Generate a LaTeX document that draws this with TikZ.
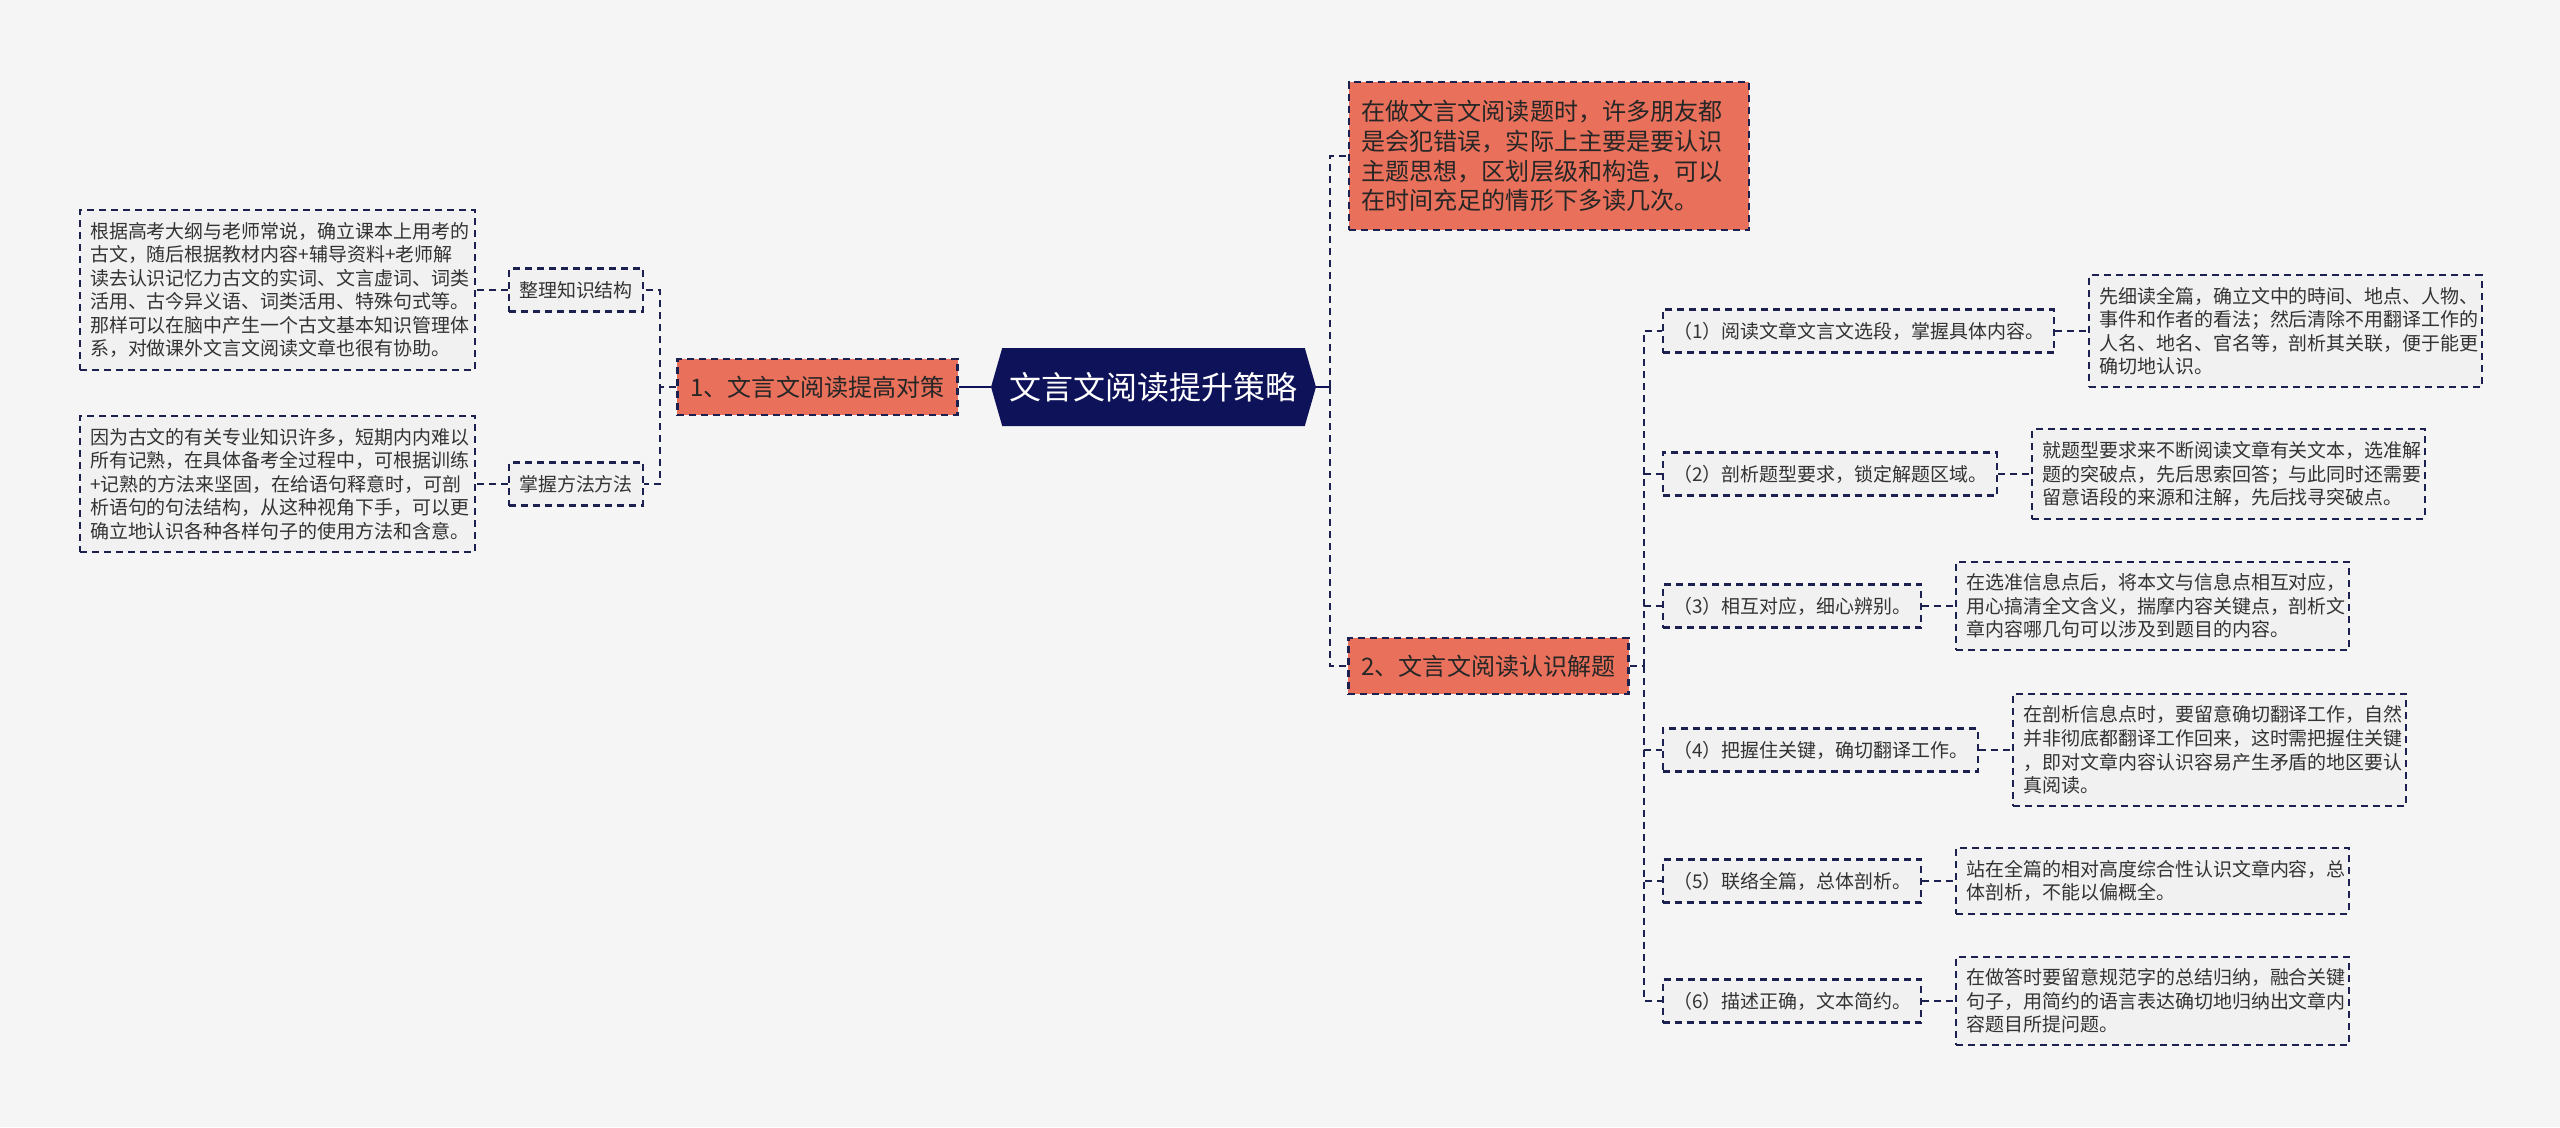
\documentclass[tikz,border=0pt]{standalone}
\usepackage{fontspec}
\newfontfamily\cjk{Noto Sans CJK SC}
\usetikzlibrary{shapes.symbols, positioning}

\definecolor{bgc}{HTML}{F5F5F5}
\definecolor{navy}{HTML}{0E1259}
\definecolor{salmon}{HTML}{E9705B}
\definecolor{linec}{HTML}{1C2150}
\definecolor{boxc}{HTML}{F1F1F1}
\definecolor{txtc}{HTML}{333333}

\begin{document}
\begin{tikzpicture}[
        x=0.02cm, y=-0.02cm,
        dashln/.style={line width=1.2pt, dash pattern=on 0.14cm off 0.1cm},
        root/.style={signal, signal to=west and east, signal pointer angle=148, fill=navy, text=white, minimum width=6.5cm, minimum height=1.56cm, inner xsep=2pt, font=\cjk\fontsize{18.2}{20}\selectfont},
        topic/.style={rectangle, dashln, draw=linec, fill=salmon, text=black!85, minimum height=1.12cm, inner xsep=0.26cm, font=\cjk\fontsize{13.7}{17}\selectfont},
        note/.style={rectangle, dashln, draw=linec, fill=salmon, text=black!85, text width=7.5cm, align=left, inner xsep=0.25cm, inner ysep=0.36cm, font=\cjk\fontsize{13.7}{17}\selectfont},
        sub/.style={rectangle, dashln, draw=linec, fill=boxc, text=txtc, minimum height=0.86cm, inner xsep=0.2cm, font=\cjk\fontsize{10.8}{13.4}\selectfont},
        leaf/.style={rectangle, dashln, draw=linec, fill=boxc, text=txtc, text width=7.45cm, align=left, inner xsep=0.2cm, inner ysep=0.24cm, font=\cjk\fontsize{10.8}{13.4}\selectfont},
        link/.style={dashln, draw=linec},
        rootlink/.style={line width=1.4pt, draw=navy}
    ]
        \useasboundingbox (0,0) rectangle (2560,1127);
        \fill[bgc] (0,0) rectangle (2560,1127);

        % centre and first level
        \node[root] (root) at (1153.5, 387) {文言文阅读提升策略};
        \node[topic] (t1) at (817.5, 387) {1、文言文阅读提高对策};
        \node[note] (r0) at (1549, 156) {在做文言文阅读题时，许多朋友都\\是会犯错误，实际上主要是要认识\\主题思想，区划层级和构造，可以\\在时间充足的情形下多读几次。};
        \node[topic] (t2) at (1488.5, 666) {2、文言文阅读认识解题};

        % left branch
        \node[sub] (z1) at (576, 290) {整理知识结构};
        \node[sub] (z2) at (576, 484) {掌握方法方法};
        \node[leaf, text width=7.5cm, left=0.64cm of z1] (L1) {根据高考大纲与老师常说，确立课本上用考的\\古文，随后根据教材内容+辅导资料+老师解\\读去认识记忆力古文的实词、文言虚词、词类\\活用、古今异义语、词类活用、特殊句式等。\\那样可以在脑中产生一个古文基本知识管理体\\系，对做课外文言文阅读文章也很有协助。};
        \node[leaf, text width=7.5cm, left=0.64cm of z2] (L2) {因为古文的有关专业知识许多，短期内内难以\\所有记熟，在具体备考全过程中，可根据训练\\+记熟的方法来坚固，在给语句释意时，可剖\\析语句的句法结构，从这种视角下手，可以更\\确立地认识各种各样句子的使用方法和含意。};

        % right branch
        \node[sub, anchor=west] (s1) at (1662, 331) {（1）阅读文章文言文选段，掌握具体内容。};
        \node[sub, anchor=west] (s2) at (1662, 474) {（2）剖析题型要求，锁定解题区域。};
        \node[sub, anchor=west] (s3) at (1662, 606) {（3）相互对应，细心辨别。};
        \node[sub, anchor=west] (s4) at (1662, 750) {（4）把握住关键，确切翻译工作。};
        \node[sub, anchor=west] (s5) at (1662, 881) {（5）联络全篇，总体剖析。};
        \node[sub, anchor=west] (s6) at (1662, 1001) {（6）描述正确，文本简约。};
        \node[leaf, right=0.66cm of s1] (d1) {先细读全篇，确立文中的時间、地点、人物、\\事件和作者的看法；然后清除不用翻译工作的\\人名、地名、官名等，剖析其关联，便于能更\\确切地认识。};
        \node[leaf, right=0.66cm of s2] (d2) {就题型要求来不断阅读文章有关文本，选准解\\题的突破点，先后思索回答；与此同时还需要\\留意语段的来源和注解，先后找寻突破点。};
        \node[leaf, right=0.66cm of s3] (d3) {在选准信息点后，将本文与信息点相互对应，\\用心搞清全文含义，揣摩内容关键点，剖析文\\章内容哪几句可以涉及到题目的内容。};
        \node[leaf, right=0.66cm of s4] (d4) {在剖析信息点时，要留意确切翻译工作，自然\\并非彻底都翻译工作回来，这时需把握住关键\\，即对文章内容认识容易产生矛盾的地区要认\\真阅读。};
        \node[leaf, right=0.66cm of s5] (d5) {站在全篇的相对高度综合性认识文章内容，总\\体剖析，不能以偏概全。};
        \node[leaf, right=0.66cm of s6] (d6) {在做答时要留意规范字的总结归纳，融合关键\\句子，用简约的语言表达确切地归纳出文章内\\容题目所提问题。};

        % connectors
        \coordinate (lj) at (660, 387);
        \coordinate (rj) at (1330, 387);
        \coordinate (sj) at (1644, 666);
        \draw[rootlink] (root.west) -- (t1.east);
        \draw[rootlink] (root.east) -- (rj);
        \draw[link] (rj) |- (r0.west);
        \draw[link] (rj) |- (t2.west);
        \draw[link] (t1.west) -- (lj) |- (z1.east);
        \draw[link] (lj) |- (z2.east);
        \draw[link] (z1.west) -- (L1.east);
        \draw[link] (z2.west) -- (L2.east);
        \draw[link] (t2.east) -- (sj);
        \foreach \i in {1,...,6} {
            \draw[link] (sj) |- (s\i.west);
            \draw[link] (s\i.east) -- (d\i.west);
        }
    \end{tikzpicture}
\end{document}
